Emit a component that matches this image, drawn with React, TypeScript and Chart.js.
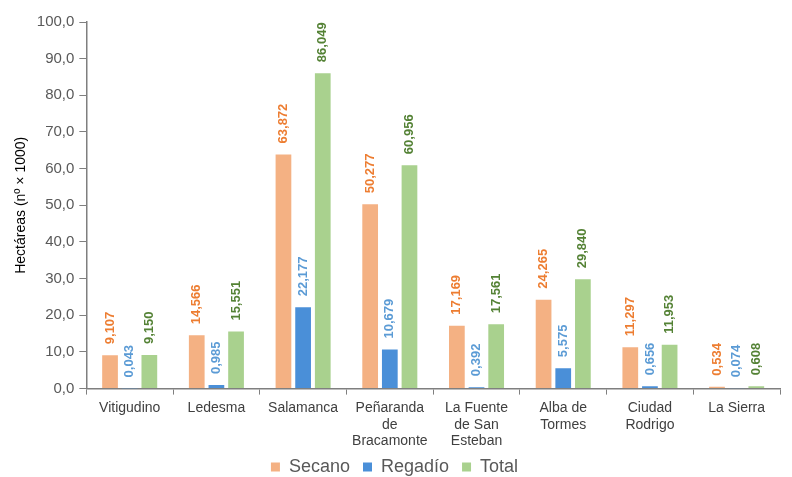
import React, { useEffect, useRef } from "react";
import { Chart, registerables } from "chart.js";

Chart.register(...registerables);

const categories: (string | string[])[] = [
  "Vitigudino",
  "Ledesma",
  "Salamanca",
  ["Peñaranda", "de", "Bracamonte"],
  ["La Fuente", "de San", "Esteban"],
  ["Alba de", "Tormes"],
  ["Ciudad", "Rodrigo"],
  "La Sierra",
];
const secano = [9.107, 14.566, 63.872, 50.277, 17.169, 24.265, 11.297, 0.534];
const regadio = [0.043, 0.985, 22.177, 10.679, 0.392, 5.575, 0.656, 0.074];
const total = [9.15, 15.551, 86.049, 60.956, 17.561, 29.84, 11.953, 0.608];

const labelColors = ["#ED7D31", "#5B9BD5", "#548235"];

const valueLabels = {
  id: "valueLabels",
  afterDatasetsDraw(chart: any) {
    const ctx = chart.ctx;
    chart.data.datasets.forEach((ds: any, i: number) => {
      const meta = chart.getDatasetMeta(i);
      meta.data.forEach((bar: any, j: number) => {
        const v = ds.data[j] as number;
        const txt = v.toFixed(3).replace(".", ",");
        ctx.save();
        ctx.translate(bar.x, bar.y - 11);
        ctx.rotate(-Math.PI / 2);
        ctx.font = "bold 13px Arial, 'Liberation Sans', sans-serif";
        ctx.fillStyle = labelColors[i];
        ctx.textAlign = "left";
        ctx.textBaseline = "middle";
        ctx.fillText(txt, 0, 0);
        ctx.restore();
      });
    });
  },
};

export default function App() {
  const ref = useRef<HTMLCanvasElement>(null);
  useEffect(() => {
    if (!ref.current) return;
    const chart = new Chart(ref.current, {
      type: "bar",
      data: {
        labels: categories,
        datasets: [
          { label: "Secano", data: secano, backgroundColor: "#F4B183" },
          { label: "Regadío", data: regadio, backgroundColor: "#4A8FD8" },
          { label: "Total", data: total, backgroundColor: "#A9D18E" },
        ],
      },
      options: {
        animation: false,
        responsive: true,
        maintainAspectRatio: false,
        datasets: { bar: { categoryPercentage: 0.68, barPercentage: 0.8 } },
        layout: { padding: { top: 11, right: 4, left: 1, bottom: 0 } },
        plugins: {
          tooltip: { enabled: false },
          legend: {
            position: "bottom",
            labels: {
              font: { size: 18, family: "Arial, 'Liberation Sans', sans-serif" },
              color: "#595959",
              boxWidth: 9,
              boxHeight: 9,
              padding: 3,
              generateLabels: (chart: any) => {
                const items = Chart.defaults.plugins.legend.labels.generateLabels(chart);
                return items.map((it: any, i: number) =>
                  i < items.length - 1 ? { ...it, text: it.text + "  " } : it
                );
              },
            },
          },
        },
        scales: {
          x: {
            grid: {
              drawOnChartArea: false,
              drawTicks: true,
              tickLength: 6,
              color: "#7F7F7F",
              offset: true,
            },
            border: { color: "#7F7F7F", width: 1.5 },
            ticks: {
              color: "#404040",
              font: { size: 14, family: "Arial, 'Liberation Sans', sans-serif", lineHeight: 1.2 },
              maxRotation: 0,
              autoSkip: false,
              padding: 5,
            },
          },
          y: {
            min: 0,
            max: 100,
            ticks: {
              stepSize: 10,
              color: "#595959",
              font: { size: 15, family: "Arial, 'Liberation Sans', sans-serif" },
              padding: 5,
              callback: (v: any) => Number(v).toFixed(1).replace(".", ","),
            },
            grid: {
              drawOnChartArea: false,
              drawTicks: true,
              tickLength: 7,
              color: "#7F7F7F",
            },
            border: { color: "#7F7F7F", width: 1.5 },
            title: {
              display: true,
              text: "Hectáreas (nº × 1000)",
              color: "#000000",
              font: { size: 14, family: "Arial, 'Liberation Sans', sans-serif" },
              padding: { bottom: 2 },
            },
          },
        },
      },
      plugins: [valueLabels],
    });
    return () => chart.destroy();
  }, []);
  return (
    <div style={{ width: 776, height: 469, overflow: "hidden" }}>
      <div style={{ width: 776, height: 478, position: "relative" }}>
        <canvas ref={ref} />
      </div>
    </div>
  );
}
